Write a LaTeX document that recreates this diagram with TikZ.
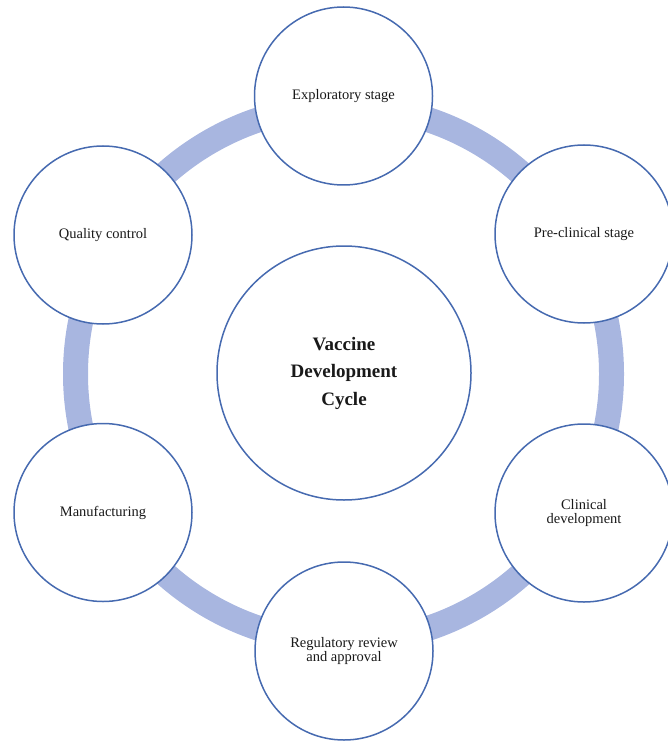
\documentclass[tikz,border=0pt]{standalone}
\usepackage{fontspec}
\setmainfont{Liberation Serif}
\definecolor{ringblue}{RGB}{168,182,224}
\definecolor{edgeblue}{RGB}{70,106,176}
\definecolor{txt}{RGB}{25,25,25}
\begin{document}
\begin{tikzpicture}[x=1pt,y=-1pt,
  stage/.style={circle,draw=edgeblue,line width=1.5pt,fill=white,minimum size=178pt,inner sep=0pt,align=center,text=txt,font=\fontsize{14.5}{13.8}\selectfont},
  hub/.style={circle,draw=edgeblue,line width=1.5pt,fill=white,minimum size=254pt,inner sep=0pt,align=center,text=txt,font=\fontsize{19}{27.5}\selectfont\bfseries},
  band/.style={draw=ringblue,line width=25pt}]
\useasboundingbox (0,0) rectangle (668,743);
\coordinate (o) at (343.5,374);
\draw[band] (o) circle[radius=268];
\node[hub] (c) at (344,373) {Vaccine\\Development\\Cycle};
\node[stage] (explo) at (343.5,96) {Exploratory stage};
\node[stage] (precl) at (584,234) {Pre-clinical stage};
\node[stage] (clin) at (584,513) {Clinical\\development};
\node[stage] (reg) at (344,651) {Regulatory review\\and approval};
\node[stage] (manu) at (103,512.5) {Manufacturing};
\node[stage] (qc) at (103,235) {Quality control};
\end{tikzpicture}
\end{document}
